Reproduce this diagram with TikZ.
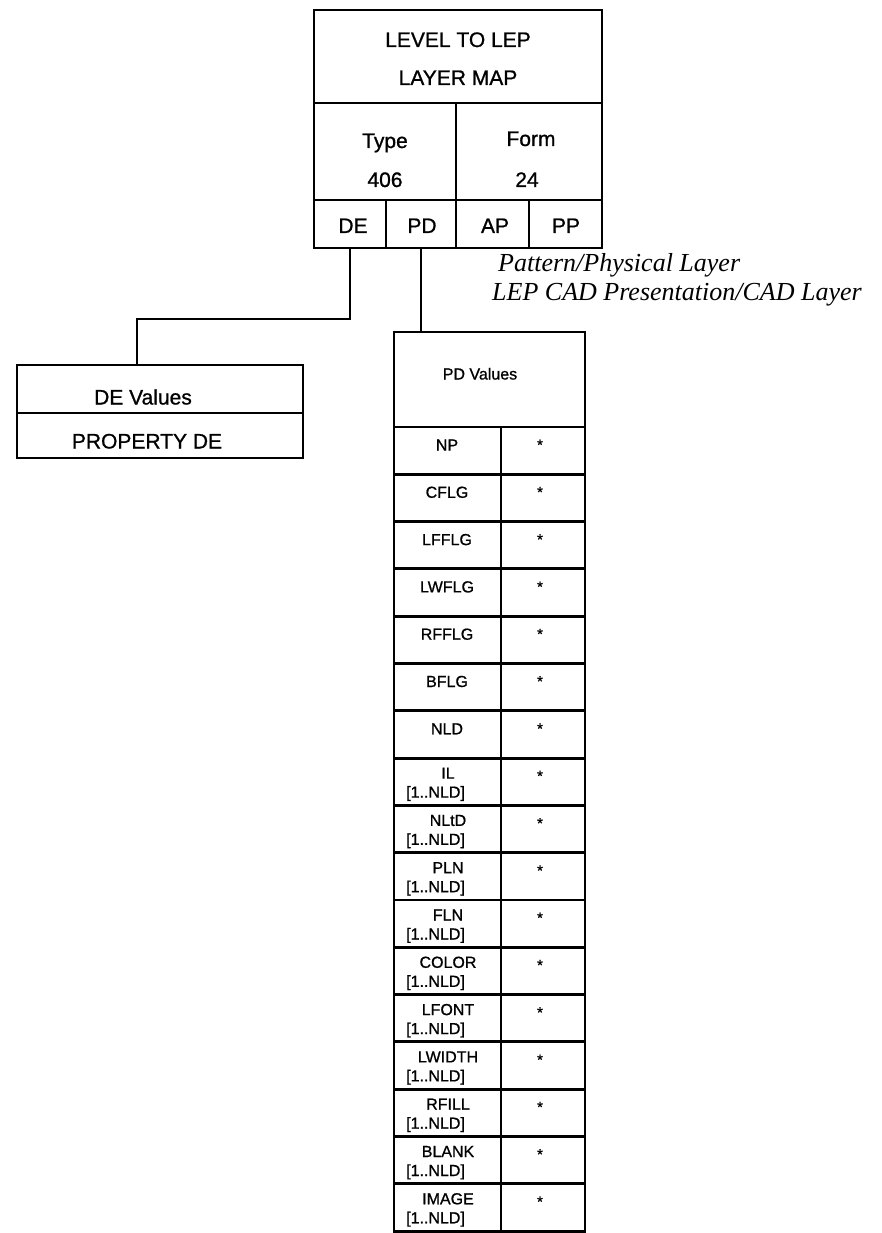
\documentclass[tikz,border=0pt]{standalone}
\usepackage{fontspec}
\setmainfont[FakeBold=0.9,AutoFakeBold=0.9]{Liberation Sans}
\newfontfamily\serifit[AutoFakeBold=0.9]{Liberation Serif}
\usetikzlibrary{calc}
\begin{document}
\begin{tikzpicture}[x=1pt,y=-1pt,
  cell/.style={draw,line width=2.9pt,inner sep=0pt,outer sep=0pt},
  big/.style={font=\bfseries\fontsize{21}{21}\selectfont,inner sep=0pt,anchor=base},
  mid/.style={font=\bfseries\fontsize{21}{21}\selectfont,inner sep=0pt,anchor=base},
  small/.style={font=\bfseries\fontsize{16}{16}\selectfont,inner sep=0pt,anchor=base},
  star/.style={font=\bfseries\fontsize{15}{15}\selectfont,inner sep=0pt,anchor=base},
  note/.style={font=\serifit\itshape\bfseries\fontsize{26}{26}\selectfont,inner sep=0pt,anchor=base west},
  wire/.style={line width=2.9pt}]
\useasboundingbox (0,0) rectangle (881,1233);

% top box
\node[cell,minimum width=288pt,minimum height=93pt] (title) at (458,56.5) {};
\node[cell,minimum width=142pt,minimum height=97pt] (type) at (385,151.5) {};
\node[cell,minimum width=146pt,minimum height=97pt] (form) at (529,151.5) {};
\node[cell,minimum width=72pt,minimum height=48pt] (de) at (350,224) {};
\node[cell,minimum width=70pt,minimum height=48pt] (pd) at (421,224) {};
\node[cell,minimum width=73pt,minimum height=48pt] (ap) at (492.5,224) {};
\node[cell,minimum width=73pt,minimum height=48pt] (pp) at (565.5,224) {};

\node[big] (t1) at (458,47) {LEVEL TO LEP};
\node[big] (t2) at (458,85) {LAYER MAP};
\node[big] (t3) at (385,148) {Type};
\node[big] (t4) at (385,187) {406};
\node[big] (t5) at (531,146) {Form};
\node[big] (t6) at (527,187) {24};
\node[big] (t7) at (353,233) {DE};
\node[big] (t8) at (422,233) {PD};
\node[big] (t9) at (495,233) {AP};
\node[big] (t10) at (566,233) {PP};

% notes
\node[note] (n1) at (498,272) {Pattern/Physical Layer};
\node[note] (n2) at (492,300) {LEP CAD Presentation/CAD Layer};

% DE values
\node[cell,minimum width=286pt,minimum height=48pt] (devals) at (160,389) {};
\node[cell,minimum width=286pt,minimum height=45pt] (prop) at (160,435.5) {};
\node[mid] (d1) at (143,404.5) {DE Values};
\node[mid] (d2) at (147,448.5) {PROPERTY DE};

% PD values
\node[cell,minimum width=191pt,minimum height=95pt] (pdvals) at (489.5,379.5) {};
\node[small] (p0) at (480,379.5) {PD Values};

\foreach [count=\i from 0] \a in {NP,CFLG,LFFLG,LWFLG,RFFLG,BFLG,NLD} {
  \pgfmathsetmacro{\top}{427+47.3*\i}
  \node[cell,minimum width=107pt,minimum height=47.3pt] (l\i) at (447.5,\top+23.65) {};
  \node[cell,minimum width=84pt,minimum height=47.3pt] (r\i) at (543,\top+23.65) {};
  \node[small] (lt\i) at (447,\top+23.5) {\a};
  \node[star] (st\i) at (540,\top+23) {*};
}
\foreach [count=\j from 7] \a in {IL,NLtD,PLN,FLN,COLOR,LFONT,LWIDTH,RFILL,BLANK,IMAGE} {
  \pgfmathsetmacro{\top}{427+47.3*\j}
  \node[cell,minimum width=107pt,minimum height=47.3pt] (l\j) at (447.5,\top+23.65) {};
  \node[cell,minimum width=84pt,minimum height=47.3pt] (r\j) at (543,\top+23.65) {};
  \node[small] (lt\j) at (448,\top+20.5) {\a};
  \node[small,anchor=base west] (lr\j) at (406,\top+39.5) {[1..NLD]};
  \node[star] (st\j) at (540,\top+23) {*};
}

% connectors
\coordinate (dej) at (137,319);
\draw[wire] (de.south) |- (dej) -- (dej |- devals.north);
\draw[wire] (pd.south) -- (pd.south |- pdvals.north);
\end{tikzpicture}
\end{document}
